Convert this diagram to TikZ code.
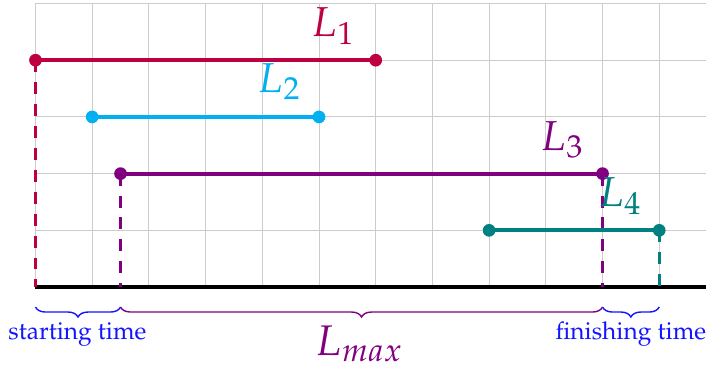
\documentclass[tikz,border=0pt]{standalone}
\usepackage[T1]{fontenc}
\usepackage{mathpazo}
\usetikzlibrary{decorations.pathreplacing}
\definecolor{lone}{rgb}{0.75,0,0.25}
\definecolor{ltwo}{RGB}{0,176,240}
\definecolor{lthree}{rgb}{0.5,0,0.5}
\definecolor{lfour}{rgb}{0,0.5,0.5}
\definecolor{tblue}{RGB}{20,20,255}
\tikzset{
  seg/.style={line width=2pt},
  drop/.style={line width=1.5pt, dash pattern=on 6pt off 5pt},
  dotmark/.style={circle, fill, inner sep=0pt, minimum size=0.224cm},
  lab/.style={font=\fontsize{21}{24}\selectfont, inner sep=0pt},
  brc/.style={decorate, decoration={brace, mirror, amplitude=5pt}, line width=0.7pt},
  tlab/.style={font=\fontsize{12.3}{14}\selectfont, text=tblue, inner sep=0pt},
}
\begin{document}
\begin{tikzpicture}
\useasboundingbox (-0.626,-1.429) rectangle (11.825,5.062);
\draw[gray!40, line width=0.5pt] (0,0) grid (11.825,5);
\draw[line width=1.6pt] (0,0) -- (11.825,0);
% coordinates
\coordinate (a1) at (0,4);   \coordinate (b1) at (6,4);
\coordinate (a2) at (1,3);   \coordinate (b2) at (5,3);
\coordinate (a3) at (1.5,2); \coordinate (b3) at (10,2);
\coordinate (a4) at (8,1);   \coordinate (b4) at (11,1);
\coordinate (s1) at (0,0);   \coordinate (s3) at (1.5,0);
\coordinate (f3) at (10,0);  \coordinate (f4) at (11,0);
% drops
\draw[drop, lone] (a1) -- (s1);
\draw[drop, lthree] (a3) -- (s3);
\draw[drop, lthree] (b3) -- (f3);
\draw[drop, lfour] (b4) -- (f4);
% segments
\draw[seg, lone] (a1) -- (b1);
\draw[seg, ltwo] (a2) -- (b2);
\draw[seg, lthree] (a3) -- (b3);
\draw[seg, lfour] (a4) -- (b4);
\foreach \p/\c in {a1/lone,b1/lone,a2/ltwo,b2/ltwo,a3/lthree,b3/lthree,a4/lfour,b4/lfour}
  \node[dotmark, \c] (d\p) at (\p) {};
% labels
\node[lab, text=lone] (n1) at (5.25,4.6) {$L_1$};
\node[lab, text=ltwo] (n2) at (4.3,3.62) {$L_2$};
\node[lab, text=lthree] (n3) at (9.29,2.6) {$L_3$};
\node[lab, text=lfour] (n4) at (10.31,1.6) {$L_4$};
% braces
\coordinate (bs0) at (0,-0.353);   \coordinate (bs1) at (1.5,-0.353);
\coordinate (bf0) at (10,-0.353);  \coordinate (bf1) at (11,-0.353);
\draw[brc, tblue] (bs0) -- (bs1);
\draw[brc, lthree] (bs1) -- (bf0);
\draw[brc, tblue] (bf0) -- (bf1);
\node[tlab] (st) at (0.74,-0.83) {starting time};
\node[tlab] (ft) at (10.5,-0.83) {finishing time};
\node[lab, font=\fontsize{21.5}{24}\selectfont, text=lthree] (lm) at (5.71,-1.0) {$L_{max}$};
\end{tikzpicture}
\end{document}
